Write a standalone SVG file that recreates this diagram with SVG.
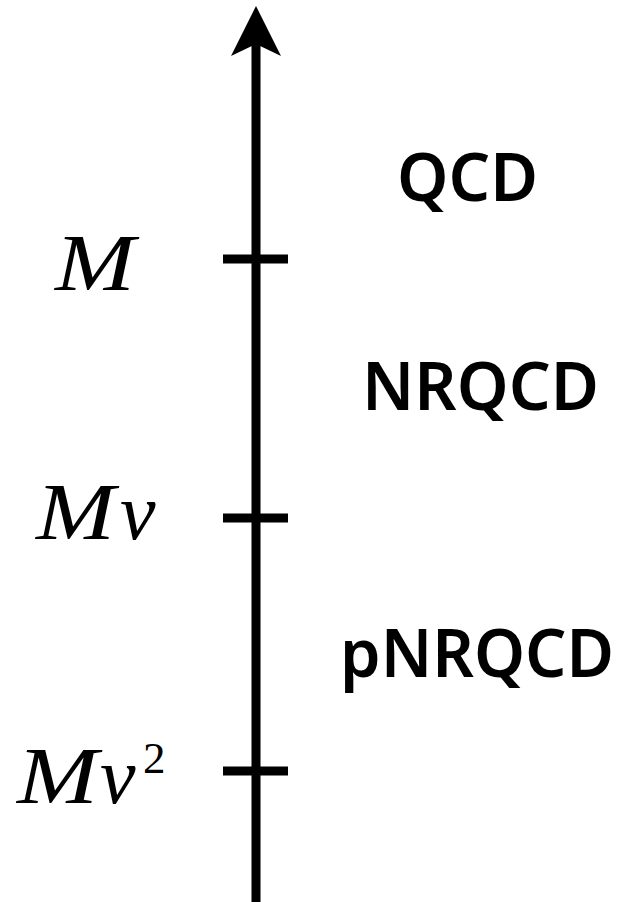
<svg xmlns="http://www.w3.org/2000/svg" width="628" height="902" viewBox="0 0 628 902">
  <style>
    .axis { stroke: #000; stroke-width: 9; fill: none; }
    .tick { stroke: #000; stroke-width: 9; }
    .scale { font-family: "Liberation Serif", "DejaVu Serif", serif; font-style: italic; font-size: 80px; fill: #000; }
    .sup { font-family: "Liberation Serif", "DejaVu Serif", serif; font-size: 45px; fill: #000; }
    .theory { font-family: "Noto Sans", "Open Sans", sans-serif; font-weight: 600; font-size: 66px; fill: #000; }
  </style>
  <defs>
    <!-- arrowhead anchored at its notch so the shaft ends inside it -->
    <marker id="head" markerUnits="userSpaceOnUse" markerWidth="60" markerHeight="60" refX="26" refY="40" orient="0">
      <path d="M26 2 L51 52 L26 40 L1 52 Z" fill="#000"/>
    </marker>
  </defs>

  <g id="connectors">
    <line class="axis" x1="256" y1="902" x2="256" y2="44" marker-end="url(#head)"/>
  </g>

  <g id="tick-M">
    <line class="tick" x1="223" y1="259" x2="288" y2="259"/>
    <text class="scale" x="55" y="290" textLength="80" lengthAdjust="spacingAndGlyphs">M</text>
  </g>
  <g id="tick-Mv">
    <line class="tick" x1="223" y1="518" x2="288" y2="518"/>
    <text class="scale" x="36" y="539" textLength="79" lengthAdjust="spacingAndGlyphs">M</text>
    <text class="scale" x="120" y="539">v</text>
  </g>
  <g id="tick-Mv2">
    <line class="tick" x1="223" y1="771" x2="288" y2="771"/>
    <text class="scale" x="17" y="803" textLength="81" lengthAdjust="spacingAndGlyphs">M</text>
    <text class="scale" x="100" y="803">v</text>
    <text class="sup" x="143" y="773">2</text>
  </g>

  <g id="region-QCD">
    <text class="theory" x="397" y="201" textLength="141" lengthAdjust="spacingAndGlyphs">QCD</text>
  </g>
  <g id="region-NRQCD">
    <text class="theory" x="362" y="410" textLength="237" lengthAdjust="spacingAndGlyphs">NRQCD</text>
  </g>
  <g id="region-pNRQCD">
    <text class="theory" x="340" y="677" textLength="274" lengthAdjust="spacingAndGlyphs">pNRQCD</text>
  </g>
</svg>
